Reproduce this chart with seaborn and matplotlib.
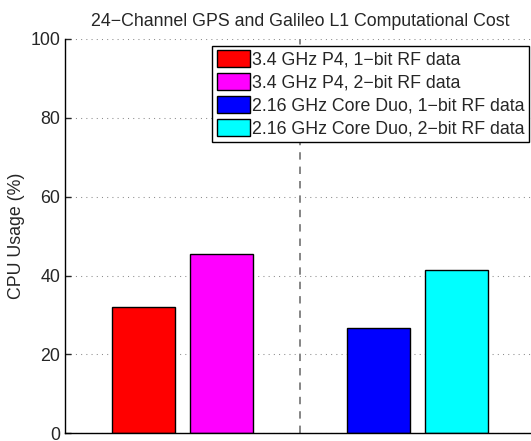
import pandas as pd
import matplotlib
matplotlib.use('Agg')
import matplotlib.pyplot as plt
import seaborn as sns

# data
labels = ['3.4 GHz P4, 1\u2212bit RF data', '3.4 GHz P4, 2\u2212bit RF data',
          '2.16 GHz Core Duo, 1\u2212bit RF data', '2.16 GHz Core Duo, 2\u2212bit RF data']
positions = [1, 2, 4, 5]
cpu_usage = [32.0, 45.5, 26.6, 41.5]
colors = ['#ff0000', '#ff00ff', '#0000ff', '#00ffff']

df = pd.DataFrame({'pos': positions, 'cpu': cpu_usage, 'label': labels})

sns.set_style('white')
plt.rcParams['font.family'] = ['Liberation Sans', 'DejaVu Sans']
FS = 12.8

fig = plt.figure(figsize=(5.31, 4.41), dpi=100)
W, H = 531, 441
# axes run a little past the right side of the picture, as in the original
ax = fig.add_axes([65 / W, 1 - 433.3 / H, (535 - 65) / W, (433.3 - 38.8) / H])

sns.barplot(data=df, x='pos', y='cpu', hue='label', palette=colors,
            native_scale=True, dodge=False, width=0.8, edgecolor='black',
            linewidth=1.0, saturation=1, ax=ax, legend=True)

ax.axvline(3, color='#858585', linestyle=(0, (3.8, 3.6)), linewidth=1.4, zorder=0)

ax.set_xlim(0, 6)
ax.set_ylim(0, 100)
ax.set_yticks([0, 20, 40, 60, 80, 100])
ax.set_xticks([])
ax.set_xlabel('')
ax.set_ylabel('CPU Usage (%)', fontsize=FS)
ax.yaxis.set_label_coords(-0.085, 0.5)
ax.tick_params(axis='y', labelsize=FS, length=4, width=1, direction='in', left=True, pad=3.5)
ax.yaxis.grid(True, linestyle=(0, (1, 4)), color='#8c8c8c', linewidth=0.75)
ax.set_axisbelow(True)
for s in ['top', 'right']:
    ax.spines[s].set_visible(False)
for s in ['left', 'bottom']:
    ax.spines[s].set_color('black')
    ax.spines[s].set_linewidth(1.0)
ax.set_title('24\u2212Channel GPS and Galileo L1 Computational Cost', fontsize=FS, pad=9)

handles, lbls = ax.get_legend_handles_labels()
ax.get_legend().remove()
leg = ax.legend(handles, lbls, loc='upper right',
                bbox_to_anchor=(529 / W, 1 - 45.7 / H), bbox_transform=fig.transFigure,
                fontsize=FS, frameon=True, fancybox=False, framealpha=1,
                edgecolor='black', borderpad=0.25, borderaxespad=0,
                handlelength=1.9, handleheight=1.1, handletextpad=0.1,
                labelspacing=0.24)
leg.get_frame().set_linewidth(1.0)

fig.savefig('out.png', dpi=100)
